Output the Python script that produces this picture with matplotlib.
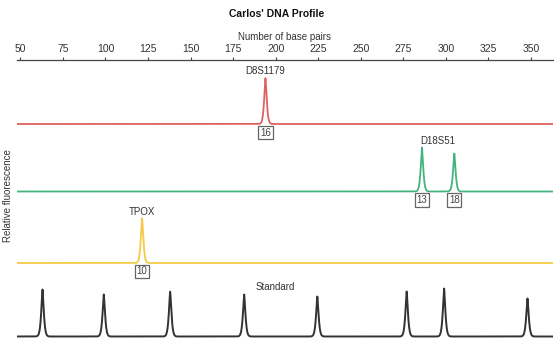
import numpy as np
import matplotlib
matplotlib.use("Agg")
import matplotlib.pyplot as plt

plt.rcParams['font.family'] = ['Liberation Sans', 'DejaVu Sans']

# --- data ---
red_locus = "D8S1179"
red_peaks = [194]
red_heights = [46]
red_alleles = ["16"]

green_locus = "D18S51"
green_peaks = [286, 305]
green_heights = [44, 38]
green_alleles = ["13", "18"]

yellow_locus = "TPOX"
yellow_peaks = [121.5]
yellow_heights = [45]
yellow_alleles = ["10"]

std_label = "Standard"
std_peaks = [63, 99, 138, 181.5, 224.5, 277, 299, 348]
std_heights = [47, 42, 45, 42, 40, 45, 48, 38]

xticks = [50, 75, 100, 125, 150, 175, 200, 225, 250, 275, 300, 325, 350]

# --- layout ---
W, H = 554, 351
fig = plt.figure(figsize=(W / 100, H / 100), dpi=100)
ax_top_px, ax_bot_px = 60, 350
ax = fig.add_axes([17 / W, 1 - ax_bot_px / H, (553 - 17) / W, (ax_bot_px - ax_top_px) / H])
ax.set_xlim(48, 363)
ax.set_ylim(0, ax_bot_px - ax_top_px)

x = np.linspace(48, 363, 8000)
scale = 1.05

def trace(peaks, heights):
    y = np.zeros_like(x)
    for p, h in zip(peaks, heights):
        y += h * np.exp(-(np.abs(x - p) / scale) ** 1.4)
    return y

tracks = [
    (red_peaks, red_heights, red_alleles, red_locus, '#DE6262', 350 - 124),
    (green_peaks, green_heights, green_alleles, green_locus, '#43B47D', 350 - 191.5),
    (yellow_peaks, yellow_heights, yellow_alleles, yellow_locus, '#F3CA48', 350 - 263),
]

for peaks, heights, alleles, locus, col, base in tracks:
    ax.plot(x, base + trace(peaks, heights), color=col, lw=1.3)
    for p, a in zip(peaks, alleles):
        ax.text(p, base - 8.5, a, ha='center', va='center', fontsize=7, color='#444444',
                bbox=dict(boxstyle='square,pad=0.18', fc='white', ec='#666666', lw=0.9))
    ax.text(np.mean(peaks), base + max(heights) + 1.5, locus, ha='center', va='bottom',
            fontsize=7, color='#333333')

std_base = 350 - 336.5
ax.plot(x, std_base + trace(std_peaks, std_heights), color='#333333', lw=1.4)
ax.text(200, std_base + 50, std_label, ha='center', va='center', fontsize=7, color='#333333')

for s in ['left', 'right', 'bottom']:
    ax.spines[s].set_visible(False)
ax.spines['top'].set_color('#444444')
ax.spines['top'].set_linewidth(0.9)
ax.set_yticks([])
ax.xaxis.set_ticks_position('top')
ax.xaxis.set_label_position('top')
ax.set_xticks(xticks)
ax.tick_params(axis='x', direction='out', length=2.5, width=0.8, color='#444444',
               labelsize=7.5, labelcolor='#333333', pad=2)
ax.set_xlabel("Number of base pairs", fontsize=7, color='#333333', labelpad=3)

fig.text(277 / W, 1 - 14 / H, "Carlos' DNA Profile", ha='center', va='center',
         fontsize=7.5, fontweight='bold', color='#111111')
fig.text(8 / W, 1 - 196 / H, "Relative fluorescence", ha='center', va='center',
         rotation=90, fontsize=7, color='#333333')

fig.savefig("out.png", dpi=100)
